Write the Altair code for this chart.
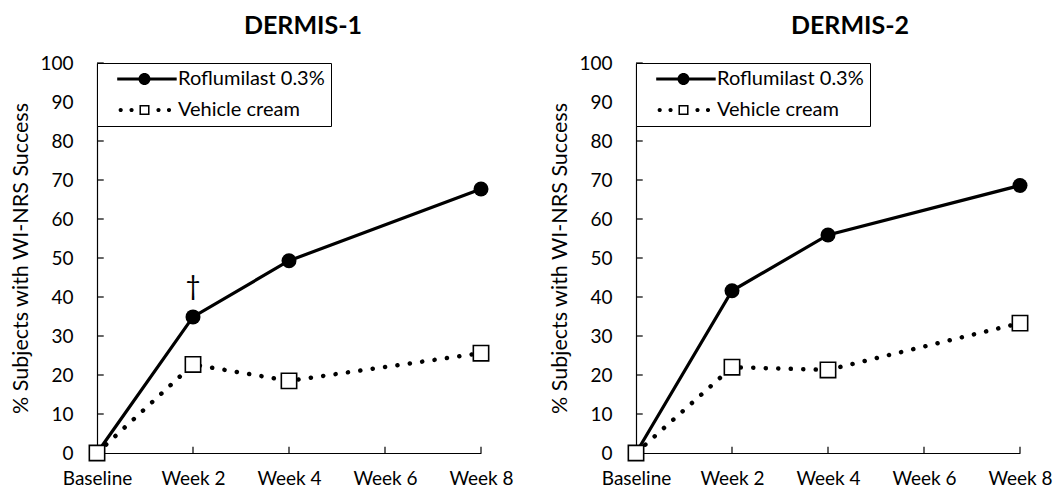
import json
import altair as alt
import pandas as pd

# ---------------- data ----------------
weeks = [0, 2, 4, 8]
x_tick_values = [0, 2, 4, 6, 8]
x_tick_labels = ["Baseline", "Week 2", "Week 4", "Week 6", "Week 8"]
y_tick_values = [0, 10, 20, 30, 40, 50, 60, 70, 80, 90, 100]
series_names = ["Roflumilast 0.3%", "Vehicle cream"]
panel_titles = ["DERMIS-1", "DERMIS-2"]
dermis1_roflumilast = [0, 34.9, 49.3, 67.7]
dermis1_vehicle = [0, 22.7, 18.5, 25.6]
dermis2_roflumilast = [0, 41.6, 55.9, 68.6]
dermis2_vehicle = [0, 22.0, 21.3, 33.3]
annotation_text = "\u2020"
annotation_week = 2

FONT = "Lato"

# legend symbols (custom paths, unit = sqrt(size)/2 px)
def circ(cx, cy, r):
    return (f"M{cx - r},{cy} A{r},{r} 0 1,1 {cx + r},{cy} "
            f"A{r},{r} 0 1,1 {cx - r},{cy} Z")

def sq_ring(cx, cy, ro, ri):
    outer = f"M{cx-ro},{cy-ro} H{cx+ro} V{cy+ro} H{cx-ro} Z"
    inner = f"M{cx-ri},{cy-ri} V{cy+ri} H{cx+ri} V{cy-ri} Z"
    return outer + " " + inner

c0 = 4.5
path_rof = (f"M0.6,-0.22 H9.1 V0.22 H0.6 Z " + circ(c0, 0, 0.86))
path_veh = " ".join([circ(1.1, 0, 0.3), circ(2.65, 0, 0.3),
                     sq_ring(c0, 0, 0.72, 0.5),
                     circ(6.5, 0, 0.3), circ(8.0, 0, 0.3)])

label_expr = json.dumps(x_tick_labels) + "[datum.value / 2]"


def panel(title, rof, veh, title_dx, with_annot):
    df = pd.DataFrame({
        "week": weeks + weeks,
        "pct": rof + veh,
        "series": [series_names[0]] * len(weeks) + [series_names[1]] * len(weeks),
    })
    xenc = alt.X("week:Q",
                 scale=alt.Scale(domain=[0, 8], nice=False, zero=False),
                 axis=alt.Axis(values=x_tick_values, labelExpr=label_expr,
                               title=None, grid=False, ticks=False, tickSize=0,
                               domainColor="black", domainWidth=1.2,
                               labelFont=FONT, labelFontSize=19,
                               labelColor="black", labelPadding=16,
                               labelOverlap=False, labelFlush=False))
    yenc = alt.Y("pct:Q",
                 scale=alt.Scale(domain=[0, 100], nice=False),
                 axis=alt.Axis(values=y_tick_values, tickCount=11,
                               title="% Subjects with WI-NRS Success",
                               titleFont=FONT, titleFontSize=21.5,
                               titleFontWeight="normal", titleColor="black",
                               titlePadding=7,
                               grid=False, ticks=False, tickSize=0,
                               domainColor="black", domainWidth=1.2,
                               labelFont=FONT, labelFontSize=19,
                               labelColor="black", labelPadding=24,
                               labelOverlap=False, labelSeparation=0))
    base = alt.Chart(df)
    rof_df = base.transform_filter(alt.datum.series == series_names[0])
    veh_df = base.transform_filter(alt.datum.series == series_names[1])

    ytick_df = pd.DataFrame({"pct": y_tick_values})
    xtick_df = pd.DataFrame({"week": x_tick_values[1:]})

    ytk = alt.Chart(ytick_df).mark_rule(color="black", strokeWidth=1.2).encode(
        y=yenc, x=alt.datum(0), x2=alt.datum(0.14))
    xtk = alt.Chart(xtick_df).mark_rule(color="black", strokeWidth=1.2).encode(
        x=xenc, y=alt.datum(0), y2=alt.datum(1.6))

    veh_line = veh_df.mark_line(color="black", strokeWidth=4.5,
                                strokeDash=[0.1, 12.4], strokeCap="round").encode(x=xenc, y=yenc)
    rof_line = rof_df.mark_line(color="black", strokeWidth=3.2).encode(x=xenc, y=yenc)
    rof_pts = rof_df.mark_point(shape="circle", filled=True, color="black",
                                size=225, opacity=1).encode(x=xenc, y=yenc)
    veh_pts = veh_df.mark_point(shape="square", fill="white", stroke="black",
                                strokeWidth=1.6, size=235, opacity=1).encode(x=xenc, y=yenc)

    legend_layer = base.transform_filter("false").mark_point(
        filled=True, opacity=0, size=196).encode(
        x=xenc, y=yenc,
        shape=alt.Shape("series:N",
                        scale=alt.Scale(domain=series_names, range=[path_rof, path_veh]),
                        legend=alt.Legend(title=None, orient="top-left", offset=0,
                                          padding=6, strokeColor="black",
                                          fillColor="white", cornerRadius=0,
                                          symbolSize=196, symbolFillColor="black",
                                          symbolStrokeWidth=0, symbolOpacity=1,
                                          labelFont=FONT, labelFontSize=20,
                                          labelColor="black", labelOffset=55,
                                          rowPadding=11)),
        color=alt.value("black"))

    layers = [ytk, xtk, veh_line, rof_line, rof_pts, veh_pts, legend_layer]
    if with_annot:
        ann_df = pd.DataFrame({"week": [annotation_week],
                               "pct": [rof[weeks.index(annotation_week)]],
                               "label": [annotation_text]})
        ann = alt.Chart(ann_df).mark_text(font=FONT, fontSize=26, color="black",
                                          dy=-30).encode(x=xenc, y=yenc, text="label:N")
        layers.append(ann)

    return alt.layer(*layers).properties(
        width=384, height=390,
        title=alt.TitleParams(title, font=FONT, fontSize=25, fontWeight="bold",
                              color="black", anchor="middle", frame="group",
                              dx=title_dx, offset=15))


p1 = panel(panel_titles[0], dermis1_roflumilast, dermis1_vehicle, 14, True)
p2 = panel(panel_titles[1], dermis2_roflumilast, dermis2_vehicle, 22, False)

chart = alt.hconcat(p1, p2, spacing=35).resolve_legend(
    shape="independent").properties(
    background="white",
    padding={"top": 6, "left": 2, "right": 0, "bottom": 0}).configure_view(
    stroke=None).configure_axis(labelOverlap=False)

chart.save("out.html", embed_options={"renderer": "svg", "actions": False})
